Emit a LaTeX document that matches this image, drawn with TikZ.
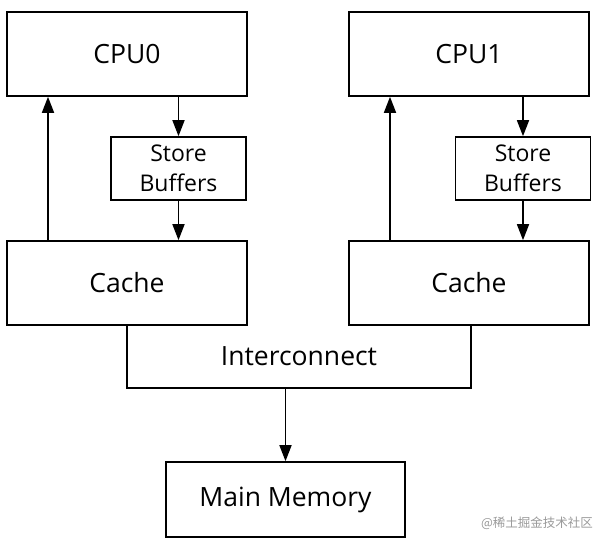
\documentclass[tikz,border=0pt]{standalone}
\usepackage{fontspec}
\setmainfont{Open Sans}
\newfontfamily\cjk{Noto Sans CJK SC}
\usetikzlibrary{positioning,arrows.meta}

\begin{document}
\begin{tikzpicture}[x=1pt, y=1pt,
    unit/.style={draw, rectangle, line width=1.6pt, minimum width=240pt, minimum height=84pt, inner sep=0pt, font=\fontsize{26.5}{32}\selectfont},
    buffer/.style={draw, rectangle, line width=1.6pt, minimum width=135pt, minimum height=63pt, inner sep=0pt, align=center, font=\fontsize{23}{30}\selectfont},
    link/.style={-{Triangle[length=16pt,width=12pt]}, line width=1.6pt}
    ]
    \useasboundingbox (0,0) rectangle (597,540);

    \node[unit] (cpu0) at (127,486) {CPU0};
    \node[unit] (cache0) at (127,257) {Cache};
    \node[buffer] (sb0) at (178.5,371.5) {Store\\Buffers};

    \node[unit] (cpu1) at (469,486) {CPU1};
    \node[unit] (cache1) at (469,257) {Cache};
    \node[buffer] (sb1) at (523,371.5) {Store\\Buffers};

    \foreach \n in {0,1} {
      \draw[link] ([xshift=-79pt]cache\n.north) to ([xshift=-79pt]cpu\n.south);
      \draw[link] (cpu\n.south -| sb\n) to (sb\n);
      \draw[link] (sb\n) to (sb\n |- cache\n.north);
    };

    \node[minimum width=344pt, minimum height=63pt, inner sep=0pt, font=\fontsize{26.5}{32}\selectfont] (interconnect) at (299,183.5) {Interconnect};
    \draw[line width=1.6pt] (interconnect.north west) -- (interconnect.south west) -- (interconnect.south east) -- (interconnect.north east);

    \node[unit, minimum width=239pt, minimum height=75pt] (memory) at (285.5,40.5) {Main Memory};
    \draw[link] (interconnect.south -| memory) to (memory);

    \node[text=black!40, font=\cjk\fontsize{12.5}{14}\selectfont] (mark) at (537,17) {@稀土掘金技术社区};
\end{tikzpicture}
\end{document}
